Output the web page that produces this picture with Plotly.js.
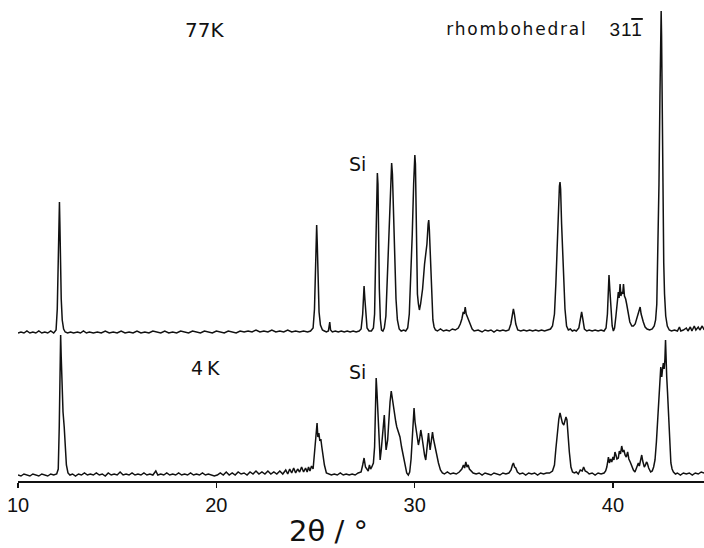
<!DOCTYPE html>
<html>
<head>
<meta charset="utf-8">
<script src="https://cdn.plot.ly/plotly-3.0.1.min.js"></script>
<style>
html,body{margin:0;padding:0;background:#fff;}
#chart{width:704px;height:548px;}
.annotation[data-index="4"] text{letter-spacing:1.8px;}
.annotation[data-index="5"] text{letter-spacing:1px;}
</style>
</head>
<body>
<div id="chart"></div>
<script>
// 2theta (degrees) and intensity (arbitrary units)
const twoTheta77K = [10.00,10.15,10.30,10.45,10.60,10.75,10.90,11.05,11.20,11.35,11.50,11.65,11.80,11.92,11.98,12.03,12.07,12.09,12.11,12.14,12.18,12.23,12.30,12.38,12.50,12.65,12.80,13.00,13.15,13.30,13.45,13.60,13.80,14.00,14.20,14.40,14.60,14.80,15.00,15.20,15.40,15.60,15.80,16.00,16.20,16.40,16.60,16.80,17.00,17.20,17.40,17.60,17.80,18.00,18.20,18.40,18.60,18.80,19.00,19.20,19.40,19.60,19.80,20.00,20.20,20.40,20.60,20.80,21.00,21.20,21.40,21.60,21.80,22.00,22.20,22.40,22.60,22.80,23.00,23.20,23.40,23.60,23.80,24.00,24.20,24.40,24.60,24.75,24.88,24.95,25.00,25.04,25.06,25.09,25.13,25.18,25.25,25.35,25.45,25.55,25.65,25.72,25.76,25.85,26.00,26.15,26.30,26.45,26.60,26.75,26.90,27.05,27.20,27.30,27.38,27.43,27.45,27.49,27.54,27.60,27.70,27.82,27.92,27.98,28.04,28.09,28.12,28.15,28.18,28.22,28.27,28.33,28.40,28.47,28.55,28.62,28.70,28.78,28.84,28.88,28.93,28.99,29.06,29.13,29.22,29.32,29.45,29.55,29.65,29.73,29.80,29.88,29.95,30.01,30.04,30.07,30.10,30.14,30.19,30.24,30.30,30.40,30.50,30.57,30.62,30.68,30.71,30.74,30.80,30.86,30.92,30.98,31.05,31.15,31.30,31.45,31.60,31.75,31.90,32.05,32.20,32.30,32.38,32.45,32.50,32.55,32.60,32.66,32.72,32.80,32.90,33.00,33.20,33.40,33.55,33.70,33.85,34.00,34.15,34.30,34.45,34.60,34.75,34.85,34.93,34.98,35.03,35.10,35.20,35.35,35.50,35.65,35.80,35.95,36.10,36.25,36.40,36.55,36.70,36.85,36.95,37.05,37.12,37.18,37.24,37.30,37.33,37.36,37.41,37.46,37.52,37.58,37.66,37.75,37.85,37.95,38.05,38.15,38.28,38.36,38.42,38.48,38.56,38.68,38.80,38.95,39.10,39.25,39.40,39.55,39.65,39.72,39.77,39.80,39.84,39.90,39.96,40.02,40.08,40.15,40.22,40.27,40.31,40.36,40.40,40.44,40.49,40.53,40.58,40.64,40.69,40.76,40.85,40.95,41.03,41.12,41.20,41.28,41.33,41.37,41.42,41.48,41.53,41.62,41.72,41.85,41.98,42.08,42.15,42.21,42.27,42.32,42.37,42.41,42.43,42.45,42.48,42.52,42.56,42.60,42.66,42.74,42.84,42.95,43.10,43.25,43.35,43.42,43.55,43.70,43.78,43.90,43.98,44.10,44.18,44.30,44.38,44.50,44.60];
const intensity77K = [1,2,1,3,1,2,1,3,1,2,1,3,1,4,25,75,122,132,112,70,35,14,5,2,1,2,1,2,1,3,1,2,1,2,1,3,1,2,1,3,1,2,1,3,1,2,1,3,2,1,3,1,2,1,3,2,1,3,2,1,3,2,1,3,2,1,3,2,1,3,2,3,2,4,2,3,2,4,2,3,2,4,2,3,2,3,2,3,6,25,65,100,109,90,50,22,9,4,3,2,3,12,4,2,3,2,3,2,3,2,3,2,3,5,20,44,48,35,18,6,3,3,6,20,85,140,161,150,95,45,15,4,3,6,18,55,100,145,171,160,125,75,35,14,5,3,4,3,6,20,50,100,150,179,170,120,55,40,30,24,30,45,70,79,90,110,114,105,70,35,14,7,4,3,5,3,4,3,5,4,6,10,15,22,20,27,20,17,14,8,5,3,4,2,4,3,4,2,4,3,4,3,4,10,20,25,20,10,4,3,4,3,4,3,4,3,4,3,4,5,8,20,50,90,125,148,152,145,110,80,55,25,8,4,5,3,4,3,6,15,22,15,5,3,4,3,4,3,4,3,6,20,45,59,45,20,8,3,6,18,35,42,36,50,38,42,40,50,38,35,30,20,12,8,8,10,16,20,24,27,20,15,12,7,5,4,5,8,14,30,80,150,240,300,323,300,230,140,71,40,18,8,4,3,4,3,7,3,4,6,3,7,3,8,4,7,4,8,4];

const twoTheta4K = [10.00,10.15,10.30,10.45,10.60,10.75,10.90,11.05,11.20,11.35,11.50,11.65,11.80,11.95,12.03,12.08,12.12,12.15,12.18,12.22,12.27,12.33,12.38,12.44,12.52,12.62,12.75,12.90,13.05,13.20,13.35,13.50,13.65,13.80,13.95,14.10,14.25,14.40,14.55,14.70,14.85,15.00,15.15,15.30,15.45,15.60,15.75,15.90,16.05,16.20,16.35,16.50,16.65,16.80,16.95,17.05,17.20,17.35,17.50,17.65,17.80,17.95,18.10,18.25,18.40,18.55,18.70,18.85,19.00,19.15,19.30,19.45,19.60,19.75,19.90,20.05,20.20,20.35,20.50,20.65,20.80,20.95,21.10,21.25,21.40,21.55,21.70,21.85,22.00,22.15,22.30,22.45,22.60,22.75,22.90,23.05,23.20,23.35,23.50,23.60,23.70,23.80,23.90,24.00,24.10,24.20,24.30,24.40,24.50,24.58,24.65,24.72,24.80,24.88,24.95,24.99,25.04,25.08,25.12,25.17,25.22,25.27,25.32,25.38,25.45,25.55,25.65,25.80,25.95,26.10,26.25,26.40,26.55,26.70,26.85,27.00,27.15,27.30,27.38,27.45,27.52,27.58,27.66,27.72,27.78,27.84,27.92,27.98,28.03,28.06,28.10,28.14,28.20,28.26,28.32,28.37,28.42,28.47,28.52,28.56,28.60,28.64,28.68,28.71,28.76,28.82,28.86,28.92,28.98,29.05,29.10,29.18,29.26,29.34,29.43,29.52,29.60,29.68,29.75,29.82,29.88,29.93,29.97,30.02,30.08,30.14,30.19,30.25,30.31,30.37,30.44,30.50,30.56,30.62,30.67,30.70,30.74,30.78,30.84,30.90,30.95,31.03,31.10,31.20,31.30,31.40,31.50,31.65,31.80,31.95,32.10,32.25,32.38,32.46,32.52,32.58,32.64,32.70,32.76,32.84,32.95,33.10,33.25,33.40,33.55,33.70,33.85,34.00,34.15,34.30,34.45,34.60,34.75,34.86,34.93,34.98,35.04,35.10,35.18,35.30,35.45,35.60,35.75,35.90,36.05,36.20,36.35,36.50,36.65,36.80,36.95,37.05,37.12,37.20,37.27,37.33,37.38,37.45,37.52,37.58,37.63,37.68,37.73,37.80,37.88,37.96,38.05,38.15,38.25,38.35,38.45,38.52,38.60,38.70,38.80,38.95,39.10,39.25,39.40,39.55,39.63,39.69,39.74,39.77,39.82,39.88,39.94,40.00,40.05,40.10,40.15,40.20,40.27,40.32,40.38,40.44,40.50,40.55,40.61,40.67,40.74,40.80,40.87,40.95,41.03,41.11,41.18,41.24,41.28,41.33,41.39,41.45,41.50,41.55,41.58,41.64,41.69,41.73,41.80,41.90,41.98,42.05,42.12,42.19,42.25,42.29,42.34,42.38,42.41,42.44,42.46,42.50,42.54,42.58,42.62,42.65,42.68,42.71,42.75,42.80,42.86,42.92,42.98,43.05,43.15,43.25,43.40,43.55,43.70,43.85,44.00,44.15,44.30,44.45,44.60];
const intensity4K = [2,1,3,2,1,3,2,1,3,2,1,3,2,3,8,50,110,142,120,90,65,50,30,12,4,2,3,1,3,2,4,2,3,2,4,2,3,1,4,2,3,2,5,2,3,2,4,2,3,2,4,2,3,2,6,2,3,2,4,2,3,2,4,2,3,2,4,2,3,2,4,2,3,2,1,2,4,2,5,2,4,2,5,3,4,2,5,3,6,3,5,3,6,3,5,3,6,3,7,3,8,4,9,4,8,5,10,5,9,5,10,6,11,8,25,38,48,54,40,44,36,38,30,20,12,4,3,2,3,2,4,2,3,2,3,2,4,5,12,19,10,8,6,12,8,10,14,30,75,99,85,67,35,17,28,42,55,62,40,27,32,37,50,64,75,86,80,72,62,55,50,45,40,30,20,10,4,2,5,18,40,60,69,55,45,36,32,38,47,40,29,22,17,28,40,44,35,27,36,45,38,29,22,14,7,4,3,5,3,4,3,5,8,12,9,15,10,12,8,6,4,3,4,2,4,3,2,4,3,2,4,3,4,7,12,14,10,9,5,3,4,2,4,3,4,2,4,3,4,4,6,12,28,48,58,64,58,54,52,56,60,57,42,25,10,5,4,5,3,7,6,10,6,5,3,4,2,4,3,4,6,10,16,20,14,18,15,20,17,25,22,18,19,26,23,31,25,27,22,20,25,18,15,10,7,5,9,12,14,11,18,22,16,12,10,12,15,14,9,5,6,10,17,35,55,70,92,105,110,104,100,108,114,108,118,137,112,100,85,64,35,14,8,5,3,4,2,4,3,4,2,4,3,5,4];

const tickValues = [10, 20, 30, 40];
const tickLabels = ['10', '20', '30', '40'];
const labels77K = '77K';
const labels4K = '4\u2009K';
const siLabel = 'Si';
const phaseLabel = 'rhombohedral';
const reflexLabel = '31<span style="text-decoration:overline">1</span>';
const xTitle = '2\u03b8 / \u00b0';

const offset77K = 143; // vertical stacking of the upper pattern
const ink = '#111';

const traces = [
  {x: twoTheta77K, y: intensity77K.map(v => v + offset77K), mode: 'lines', type: 'scatter',
   line: {color: ink, width: 1.5}, hoverinfo: 'skip', showlegend: false, cliponaxis: true},
  {x: twoTheta4K, y: intensity4K, mode: 'lines', type: 'scatter',
   line: {color: ink, width: 1.5}, hoverinfo: 'skip', showlegend: false, cliponaxis: true}
];

const labelFont = {family: 'DejaVu Sans, Liberation Sans, sans-serif', size: 20, color: ink};
const f = (s) => Object.assign({}, labelFont, {size: s});

const layout = {
  width: 704, height: 548,
  margin: {l: 18, r: 0, t: 0, b: 67, pad: 0},
  paper_bgcolor: '#fff', plot_bgcolor: '#fff',
  showlegend: false,
  xaxis: {
    range: [10, 44.59], showgrid: false, zeroline: false,
    showline: true, linecolor: ink, linewidth: 1.5,
    ticks: 'outside', ticklen: 5, tickwidth: 1.5, tickcolor: ink,
    tickmode: 'array', tickvals: tickValues, ticktext: tickLabels,
    tickfont: {family: 'Liberation Sans, Arial, sans-serif', size: 20, color: ink},
    fixedrange: true
  },
  yaxis: {range: [-4, 477], visible: false, fixedrange: true},
  annotations: [
    {text: labels77K, x: 19.38, y: 447, xref: 'x', yref: 'y', showarrow: false, font: labelFont},
    {text: labels4K, x: 19.46, y: 109, xref: 'x', yref: 'y', showarrow: false, font: f(19)},
    {text: siLabel, x: 27.12, y: 313, xref: 'x', yref: 'y', showarrow: false, font: f(19)},
    {text: siLabel, x: 27.12, y: 105, xref: 'x', yref: 'y', showarrow: false, font: f(19)},
    {text: phaseLabel, x: 32.05, y: 448, xref: 'x', yref: 'y', xanchor: 'left', showarrow: false, font: f(17)},
    {text: reflexLabel, x: 39.8, y: 448, xref: 'x', yref: 'y', xanchor: 'left', showarrow: false,
     font: {family: 'Liberation Sans, Arial, sans-serif', size: 19, color: ink}},
    {text: xTitle, x: 25.68, y: -0.104, xref: 'x', yref: 'paper', yanchor: 'middle', showarrow: false, font: f(29)}
  ]
};

Plotly.newPlot('chart', traces, layout, {staticPlot: true, displayModeBar: false});
</script>
</body>
</html>
